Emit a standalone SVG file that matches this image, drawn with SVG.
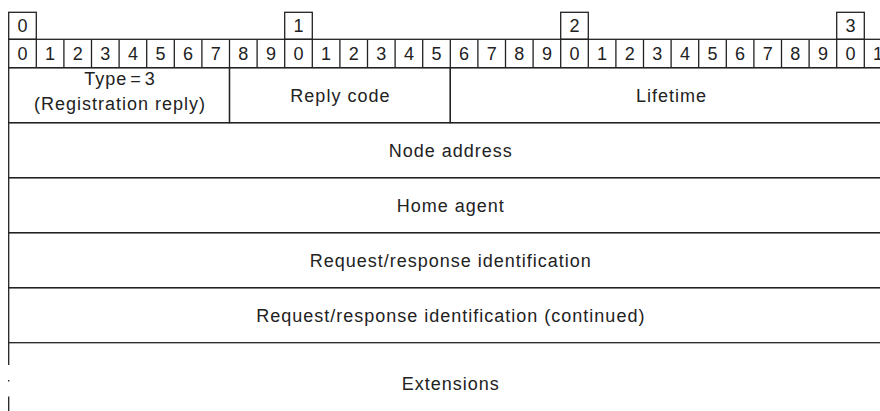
<svg xmlns="http://www.w3.org/2000/svg" width="880" height="411" viewBox="0 0 880 411">
  <style>
    .box { fill: none; stroke: #222; stroke-width: 1.3; }
    .ln { stroke: #222; stroke-width: 1.3; fill: none; }
    .num { font-family: "Liberation Sans", Arial, sans-serif; font-size: 18px; fill: #222; text-anchor: middle; }
    .lbl { font-family: "Liberation Sans", Arial, sans-serif; font-size: 18px; fill: #222; text-anchor: middle; letter-spacing: 1px; }
  </style>
  <rect width="880" height="411" fill="#fff"/>

  <!-- decade markers above the bit ruler -->
  <g id="decades">
    <rect class="box" x="8.7" y="12.3" width="27.6" height="27"/>
    <rect class="box" x="284.7" y="12.3" width="27.6" height="27"/>
    <rect class="box" x="560.7" y="12.3" width="27.6" height="27"/>
    <rect class="box" x="836.7" y="12.3" width="27.6" height="27"/>
    <text class="num" x="22.5" y="32">0</text>
    <text class="num" x="298.5" y="32">1</text>
    <text class="num" x="574.5" y="32">2</text>
    <text class="num" x="850.5" y="32">3</text>
  </g>

  <!-- bit ruler 0..31 -->
  <g id="bits">
    <rect class="box" x="8.7" y="39.3" width="883.2" height="28.4"/>
    <path class="ln" d="M36.3 39.3V67.7M63.9 39.3V67.7M91.5 39.3V67.7M119.1 39.3V67.7M146.7 39.3V67.7M174.3 39.3V67.7M201.9 39.3V67.7M229.5 39.3V67.7M257.1 39.3V67.7M284.7 39.3V67.7M312.3 39.3V67.7M339.9 39.3V67.7M367.5 39.3V67.7M395.1 39.3V67.7M422.7 39.3V67.7M450.3 39.3V67.7M477.9 39.3V67.7M505.5 39.3V67.7M533.1 39.3V67.7M560.7 39.3V67.7M588.3 39.3V67.7M615.9 39.3V67.7M643.5 39.3V67.7M671.1 39.3V67.7M698.7 39.3V67.7M726.3 39.3V67.7M753.9 39.3V67.7M781.5 39.3V67.7M809.1 39.3V67.7M836.7 39.3V67.7M864.3 39.3V67.7"/>
    <text class="num" x="22.5" y="60">0</text>
    <text class="num" x="50.1" y="60">1</text>
    <text class="num" x="77.7" y="60">2</text>
    <text class="num" x="105.3" y="60">3</text>
    <text class="num" x="132.9" y="60">4</text>
    <text class="num" x="160.5" y="60">5</text>
    <text class="num" x="188.1" y="60">6</text>
    <text class="num" x="215.7" y="60">7</text>
    <text class="num" x="243.3" y="60">8</text>
    <text class="num" x="270.9" y="60">9</text>
    <text class="num" x="298.5" y="60">0</text>
    <text class="num" x="326.1" y="60">1</text>
    <text class="num" x="353.7" y="60">2</text>
    <text class="num" x="381.3" y="60">3</text>
    <text class="num" x="408.9" y="60">4</text>
    <text class="num" x="436.5" y="60">5</text>
    <text class="num" x="464.1" y="60">6</text>
    <text class="num" x="491.7" y="60">7</text>
    <text class="num" x="519.3" y="60">8</text>
    <text class="num" x="546.9" y="60">9</text>
    <text class="num" x="574.5" y="60">0</text>
    <text class="num" x="602.1" y="60">1</text>
    <text class="num" x="629.7" y="60">2</text>
    <text class="num" x="657.3" y="60">3</text>
    <text class="num" x="684.9" y="60">4</text>
    <text class="num" x="712.5" y="60">5</text>
    <text class="num" x="740.1" y="60">6</text>
    <text class="num" x="767.7" y="60">7</text>
    <text class="num" x="795.3" y="60">8</text>
    <text class="num" x="822.9" y="60">9</text>
    <text class="num" x="850.5" y="60">0</text>
    <text class="num" x="878.1" y="60">1</text>
  </g>

  <!-- message fields -->
  <g id="type">
    <rect class="box" x="8.7" y="67.7" width="220.8" height="55"/>
    <text class="lbl" x="120" y="85" word-spacing="-3">Type = 3</text>
    <text class="lbl" x="120" y="110">(Registration reply)</text>
  </g>
  <g id="reply-code">
    <rect class="box" x="229.5" y="67.7" width="220.8" height="55"/>
    <text class="lbl" x="340.4" y="101.7">Reply code</text>
  </g>
  <g id="lifetime">
    <rect class="box" x="450.3" y="67.7" width="441.6" height="55"/>
    <text class="lbl" x="671.6" y="101.7">Lifetime</text>
  </g>
  <g id="node-address">
    <rect class="box" x="8.7" y="122.7" width="883.2" height="55"/>
    <text class="lbl" x="450.8" y="156.7">Node address</text>
  </g>
  <g id="home-agent">
    <rect class="box" x="8.7" y="177.7" width="883.2" height="55"/>
    <text class="lbl" x="450.8" y="211.7">Home agent</text>
  </g>
  <g id="request-id">
    <rect class="box" x="8.7" y="232.7" width="883.2" height="55"/>
    <text class="lbl" x="450.8" y="266.7">Request/response identification</text>
  </g>
  <g id="request-id-cont">
    <rect class="box" x="8.7" y="287.7" width="883.2" height="55"/>
    <text class="lbl" x="450.8" y="321.7">Request/response identification (continued)</text>
  </g>
  <g id="extensions">
    <path class="ln" d="M8.7 342.7V365M8.7 380V381.5M8.7 396.5V411"/>
    <text class="lbl" x="450.8" y="390">Extensions</text>
  </g>
</svg>
